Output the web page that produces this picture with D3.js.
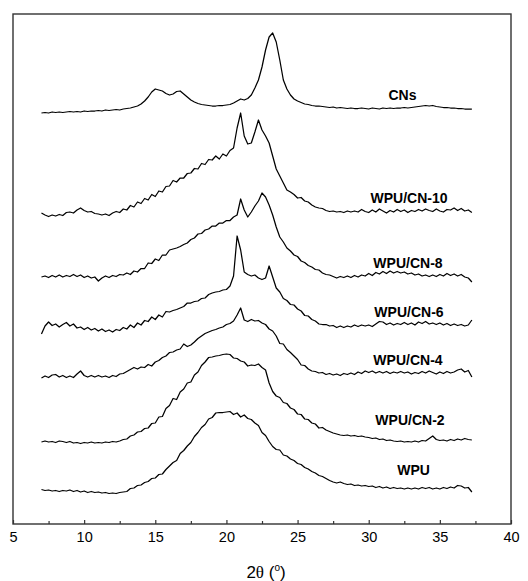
<!DOCTYPE html>
<meta charset="utf-8">
<style>

body {
  margin: 0;
  background: #fff;
}

text {
  font-family: Arial, "Liberation Sans", sans-serif;
  fill: #000;
}

.frame {
  fill: none;
  stroke: #333;
  stroke-width: 1.4px;
}

.curve {
  fill: none;
  stroke: #000;
  stroke-width: 1.25px;
  stroke-linejoin: round;
}

.label {
  font-weight: bold;
  font-size: 14px;
  text-anchor: middle;
}

.axis text {
  font-size: 14.5px;
}

.axis line {
  stroke: #333;
  stroke-width: 1.2px;
}

</style>
<svg width="528" height="581"></svg>
<script src="https://d3js.org/d3.v7.min.js"></script>
<script>

// scan: 2-theta from 7 to 37.25 deg, one reading every 0.25 deg
var thetaStart = 7,
    thetaStep = 0.25;

var samples = ["WPU", "WPU/CN-2", "WPU/CN-4", "WPU/CN-6", "WPU/CN-8", "WPU/CN-10", "CNs"];

// vertical shift of each pattern (a.u.)
var offsets = [34, 82, 147, 191, 247, 311, 411];

// intensity above each pattern's own baseline (a.u.)
var wpu = [
  0.5,-0.5,0,-1,-0.5,-1.5,-0.5,-1,0,-1.5,
  -0.5,-2,-1,-2.5,-1.5,-2.5,-2,-3,-2.5,-3.5,
  -3,-3.5,-2.5,-2,-1.5,1.5,2,4.5,5,7.5,
  8.5,11.5,12,15.5,16,20.5,24,27.5,29.5,36.5,
  39.5,44,47.5,53.5,57.5,62.5,65.5,71,72.5,77,
  77.5,77.5,78,78.5,75.5,77,73,75,71.5,70.5,
  67,64.5,57.5,54.5,48.5,43.5,40.5,40,35,34,
  31,29.5,26.5,25.5,22.5,21,18.5,17,14.5,13.5,
  11.5,9.5,8,7,8,6.5,5.5,6,4.5,5,
  4,4.5,3.5,4,2.5,3.5,2,3,1.5,2.5,
  1.5,2,1,2,1,2,1,2.5,1.5,2.5,
  1,2,1,2.5,1.5,3,2,4.5,4,2,
  2.5,-2
];

var cn2 = [
  0,1,0,0.5,-0.5,1,0.5,-0.5,0.5,-1,
  -0.5,-1.5,-0.5,-1,0,-1,-0.5,-1,0,-0.5,
  0.5,0,1,2.5,3,6,7,10,10.5,13.5,
  14,18.5,19,25,25.5,33.5,36.5,43.5,42.5,50,
  53,59,60,67,70,76.5,80,84.5,85,86,
  86.5,87.5,88,87.5,84,83.5,81,80,76,77,
  76.5,78,74.5,72,59,50.5,46,44.5,39.5,38.5,
  34,32.5,28,27.5,23,22.5,19,18,14,14.5,
  12,10.5,9,8,7,6.5,7,6,6.5,5.5,
  6,5,4.5,3.5,4,2.5,3,1.5,2,1,
  0.5,1,0,0.5,0,1,0,1.5,1,3.5,
  6,2.5,1.5,2,1,2.5,1.5,3,2,3.5,
  2.5,2
];

var cn4 = [
  -1,1,-0.5,2,2.5,0,1.5,-0.5,1,-0.5,
  3,6,1.5,0,1.5,0,1.5,0,1,-0.5,
  1.5,0.5,3,3.5,5.5,7.5,9.5,8,10,9.5,
  12.5,11,15,16.5,19.5,21,24.5,25,27,28,
  33,30.5,32,35,38.5,41,43.5,45,46.5,47.5,
  49,50,52.5,53.5,56,62,69,57,55.5,57.5,
  56,56.5,54,52.5,48,46,41,33.5,33,27.5,
  24.5,21,17.5,12,11.5,8,6,5.5,4,4.5,
  2.5,3.5,2,3,1.5,3.5,2.5,4,2.5,5,
  3.5,6,4.5,6,4,5.5,4,5.5,3.5,5,
  4,5.5,4,5,3,4.5,3.5,5.5,4,6,
  4.5,3,5,3.5,5.5,4,5,7,8,5,
  6.5,0
];

var cn6 = [
  -1,7,11,7.5,9,6,8.5,10.5,7,9,
  5,6,3.5,5.5,3,4.5,2,4,1.5,3,
  1,3.5,2.5,5.5,4,8,5.5,10,8,12.5,
  11.5,16,13.5,18,16,21.5,21,22.5,23.5,25,
  26.5,30,30,31.5,32,34.5,35,38.5,40,41,
  41.5,43,43.5,47,57,97,83,61,58.5,57,
  58,55,53.5,55,67,56,45,41,34.5,32.5,
  28.5,28,24,22,17.5,17,13.5,12,9,8.5,
  8.5,7,7.5,5.5,7,5.5,7,6,8,6.5,
  8,7,8,6.5,9,11.5,11,8.5,10,8,
  9.5,8.5,10.5,8.5,10,8,11,9.5,11.5,9,
  10,8.5,10,8,9.5,7.5,9,7.5,8.5,7,
  8,13
];

var cn8 = [
  0,1,-0.5,1.5,0,2,0,1.5,0.5,2.5,
  0.5,2,-0.5,1,-1,0,-4,-1,1,-0.5,
  1.5,0.5,2.5,2,4,2.5,6,5,8.5,8.5,
  14,13.5,18,16.5,22,22,27,28,29,30.5,
  32.5,34,37.5,39,43,43.5,47,48,51,51,
  54,54,56.5,56.5,60,62,78,67,60,65,
  71,76,84,80,72,62,50,40,35,29,
  26,22,20.5,16,14.5,11.5,10,7.5,7,4,
  2.5,2,0.5,-1,0.5,-0.5,1,-0.5,1.5,0,
  2,1,3.5,1.5,4.5,3,5.5,3.5,6,4,
  5.5,4,5,3,4,2,3,1,2,0.5,
  2,0.5,2.5,1,3.5,1.5,3,1,2.5,0,
  -1,-5
];

var cn10 = [
  0,-2,-3.5,-2,-3,-1.5,-2.5,0.5,1,0,
  3,5,2.5,1,1.5,-0.5,-1,-2,-1,-2.5,
  0,1.5,0.5,4,3,7.5,6,11,9.5,14.5,
  13,18.5,16.5,22,21,26.5,27,32.5,31,35,
  35,39.5,40,44.5,44,49.5,48.5,53.5,53,57,
  54,59,57,62.5,65,85,100,77,69,70,
  81,93,83,77,70,57,44,37,30,23,
  21,18.5,15,15.5,12,11,8,6,5,4.5,
  2.5,1.5,2,1,1.5,0.5,2,1,2,1,
  3.5,1.5,0.5,3,1,4,2,0,2.5,1,
  3.5,1.5,3,0.5,2.5,1.5,3.5,2,4,2.5,
  1.5,4,2,1,3.5,3,5,2.5,4.5,2,
  3,0.5
];

var cns = [
  0,0.5,0,1,0.5,1,0.5,1,1.5,1,
  1.5,1,2,1.5,2,2,2.5,2,3,2.5,
  3,3.5,3,4,4.5,5,6,7,9,12,
  16,21,24,23,22,19.5,18,19,21.5,22,
  19,16,13,11,9.5,8.5,8,7.5,7,7,
  7.5,7.5,8,8.5,10,12,14,13,14.5,18,
  25,33,46,63,76,80,71,53,33,24,
  18,14,12,10.5,9,8.5,7.5,7,7,6.5,
  6,5.5,6,5,5.5,5,4.5,5,4.5,4.5,
  5,4.5,4,5,4.5,4,5,4.5,5,4.5,
  5,5,5.5,5,5.5,6,6.5,7,7.5,7,
  7.5,6.5,6,5.5,5.5,5,5,4.5,4.5,4,
  4,4
];

var series = [wpu, cn2, cn4, cn6, cn8, cn10, cns];

var xTicks = [5, 10, 15, 20, 25, 30, 35, 40],
    xMinorTicks = [7.5, 12.5, 17.5, 22.5, 27.5, 32.5, 37.5];

var svg = d3.select("svg"),
    width = +svg.attr("width"),
    height = +svg.attr("height"),
    margin = {top: 14, right: 17, bottom: 57, left: 13};

var x = d3.scaleLinear()
    .domain([5, 40])
    .range([margin.left, width - margin.right]);

var y = d3.scaleLinear()
    .domain([0, 510])
    .range([height - margin.bottom, margin.top]);

var line = d3.line()
    .x(function(d, i) { return x(thetaStart + i * thetaStep); })
    .y(function(d) { return y(d); });

svg.append("g")
  .selectAll("path")
  .data(series)
  .enter().append("path")
    .attr("class", "curve")
    .attr("d", function(d, k) {
      return line(d.map(function(v) { return v + offsets[k]; }));
    });

// name of each pattern, placed just above its right-hand tail
var labelTheta = [33.15, 32.9, 32.76, 32.83, 32.76, 32.83, 32.37],
    labelLift = [15, 17, 12, 16, 9, 10, 13];

svg.append("g")
  .selectAll("text")
  .data(samples)
  .enter().append("text")
    .attr("class", "label")
    .attr("x", function(d, k) { return x(labelTheta[k]); })
    .attr("y", function(d, k) { return y(offsets[k] + labelLift[k]); })
    .text(function(d) { return d; });

svg.append("rect")
    .attr("class", "frame")
    .attr("x", margin.left)
    .attr("y", margin.top)
    .attr("width", width - margin.left - margin.right)
    .attr("height", height - margin.top - margin.bottom);

var axisG = svg.append("g")
    .attr("class", "axis")
    .attr("transform", "translate(0," + (height - margin.bottom) + ")");

axisG.call(d3.axisBottom(x)
    .tickValues(xTicks)
    .tickSize(-4)
    .tickSizeOuter(0)
    .tickPadding(8));

axisG.append("g").call(d3.axisBottom(x)
    .tickValues(xMinorTicks)
    .tickSize(-3)
    .tickSizeOuter(0)
    .tickFormat(""));

axisG.selectAll(".domain").remove();
axisG.selectAll("text").attr("font-family", null).attr("font-size", null);

var title = svg.append("text")
    .attr("x", 266)
    .attr("y", 578)
    .attr("text-anchor", "middle")
    .style("font-size", "17px");

title.append("tspan").text("2");
title.append("tspan").style("font-family", "'Liberation Serif', 'DejaVu Serif', serif").text("\u03b8");
title.append("tspan").text(" (");
title.append("tspan").attr("dy", "-7").style("font-size", "10px").text("o");
title.append("tspan").attr("dy", "7").text(")");

</script>
